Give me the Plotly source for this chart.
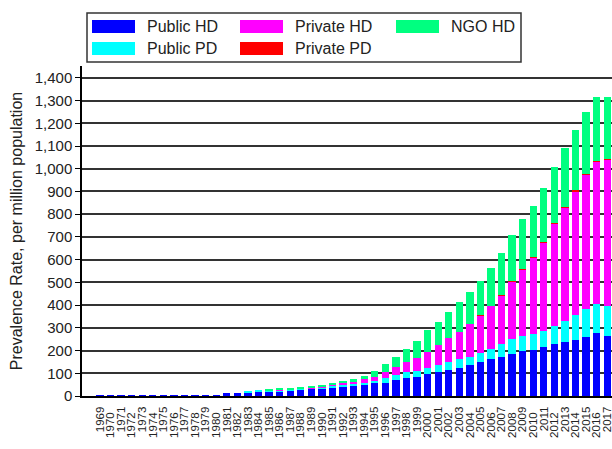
import plotly.graph_objects as go

years = list(range(1969, 2018))
public_hd = [0.5, 1, 1, 1, 1.5, 1.5, 2, 2, 2, 2.5, 2.5, 4, 12, 15, 16, 20, 19, 21, 25, 28,
             31, 33, 38, 41, 46, 50, 56, 59, 70, 78, 85, 95, 106, 114, 123, 135, 150, 161, 173, 186,
             198, 204, 215, 227, 237, 248, 259, 278, 265]
public_pd = [0, 0, 0, 0, 0, 0, 0, 0, 0, 0, 0, 0, 0, 0, 2, 3, 3, 4, 3, 3,
             4, 4, 6, 8, 8, 8, 12, 20, 24, 26, 25, 27, 31, 36, 40, 38, 41, 44, 55, 64,
             66, 69, 71, 82, 93, 109, 124, 128, 133]
private_hd = [0, 0, 0, 0, 0, 0, 0, 0, 0, 0, 0, 0, 0, 0, 0, 0, 0, 3, 2, 2,
              3, 3, 4, 7, 8, 17, 17, 28, 34, 44, 57, 73, 88, 105, 120, 144, 165, 192, 215, 253,
              293, 335, 390, 448, 500, 544, 590, 626, 643]
private_pd = [0, 0, 0, 0, 0, 0, 0, 0, 0, 0, 0, 0, 0, 0, 0, 0, 0, 0, 0, 0,
              0, 0, 0, 0, 0, 0, 0, 0, 0, 0, 0, 0, 0, 0, 0, 0, 1, 1, 2, 3,
              3, 3, 3, 3, 3, 4, 4, 4, 4]
ngo_hd = [0, 0, 0, 0, 0, 0, 0, 0, 0, 0, 0, 0, 0, 0, 0, 0, 10, 7, 7, 8,
          6, 8, 9, 10, 12, 15, 25, 34, 44, 59, 77, 94, 101, 115, 131, 141, 149, 166, 186, 202,
          219, 224, 236, 246, 258, 265, 273, 280, 272]

series = [
    ("Public HD", public_hd, "#0000ff"),
    ("Public PD", public_pd, "#00ffff"),
    ("Private HD", private_hd, "#ff00ff"),
    ("Private PD", private_pd, "#ff0000"),
    ("NGO HD", ngo_hd, "#00ff80"),
]
y_ticks = list(range(0, 1500, 100))

W, H = 612, 449
L, R, T, B = 82, 0, 66, 53
FONT = "Liberation Sans, Arial, sans-serif"

fig = go.Figure()
for name, vals, col in series:
    fig.add_trace(go.Bar(x=years, y=vals, name=name, marker=dict(color=col, line=dict(width=0)),
                         width=0.69, showlegend=False))
# invisible helper trace so the second (staggered-label) x axis is drawn
fig.add_trace(go.Scatter(x=[years[0]], y=[0], xaxis="x2", yaxis="y", mode="markers",
                         marker=dict(size=0.1, opacity=0), showlegend=False, hoverinfo="skip"))

def px(xp):
    return (xp - L) / (W - L - R)

def py(yp):
    return (H - B - yp) / (H - T - B)

shapes = [dict(type="rect", xref="paper", yref="paper", x0=px(87), x1=px(521), y0=py(62), y1=py(13),
               line=dict(color="#333", width=1.5), fillcolor="white", layer="above")]
annotations = []
legend_layout = [
    ("Public HD", 92, 20), ("Private HD", 240, 20), ("NGO HD", 396, 20),
    ("Public PD", 92, 42), ("Private PD", 240, 42),
]
colors = {n: c for n, _, c in series}
for name, x0, y0 in legend_layout:
    shapes.append(dict(type="rect", xref="paper", yref="paper", x0=px(x0), x1=px(x0 + 43),
                       y0=py(y0 + 13), y1=py(y0), line=dict(width=0), fillcolor=colors[name], layer="above"))
    annotations.append(dict(text=name, xref="paper", yref="paper", x=px(x0 + 53), y=py(y0 + 6.5),
                            xanchor="left", yanchor="middle", showarrow=False,
                            font=dict(family=FONT, size=16, color="#222")))

odd_years = years[0::2]
even_years = years[1::2]

fig.update_layout(
    width=W, height=H,
    margin=dict(l=L, r=R, t=T, b=B, autoexpand=False),
    paper_bgcolor="white", plot_bgcolor="white",
    barmode="stack", bargap=0.31,
    font=dict(family=FONT, color="#222"),
    shapes=shapes, annotations=annotations,
    xaxis=dict(range=[1967.3, 2017.45], tickvals=odd_years, ticktext=[str(y) for y in odd_years],
               tickangle=-90, tickfont=dict(size=11.5, color="#222"), ticks="", showgrid=False,
               showline=True, linecolor="black", linewidth=2, zeroline=False, ticklabelstandoff=4,
               ticklabeloverflow="allow"),
    xaxis2=dict(overlaying="x", matches="x", anchor="y", side="bottom",
                tickvals=even_years, ticktext=[str(y) for y in even_years],
                tickangle=-90, tickfont=dict(size=11.5, color="#222"), ticks="", showgrid=False,
                showline=False, zeroline=False, ticklabelstandoff=13, ticklabeloverflow="allow"),
    yaxis=dict(range=[0, 1452], tickvals=y_ticks, tickformat=",d", ticks="outside", ticklen=5,
               tickcolor="black", tickfont=dict(size=15, color="#222"), showgrid=True,
               gridcolor="#333", gridwidth=1.5, showline=True, linecolor="black", linewidth=1.5,
               zeroline=False,
               title=dict(text="Prevalence Rate, per million population",
                          font=dict(size=16, color="#222"), standoff=8)),
)
fig.write_html("out.html")
